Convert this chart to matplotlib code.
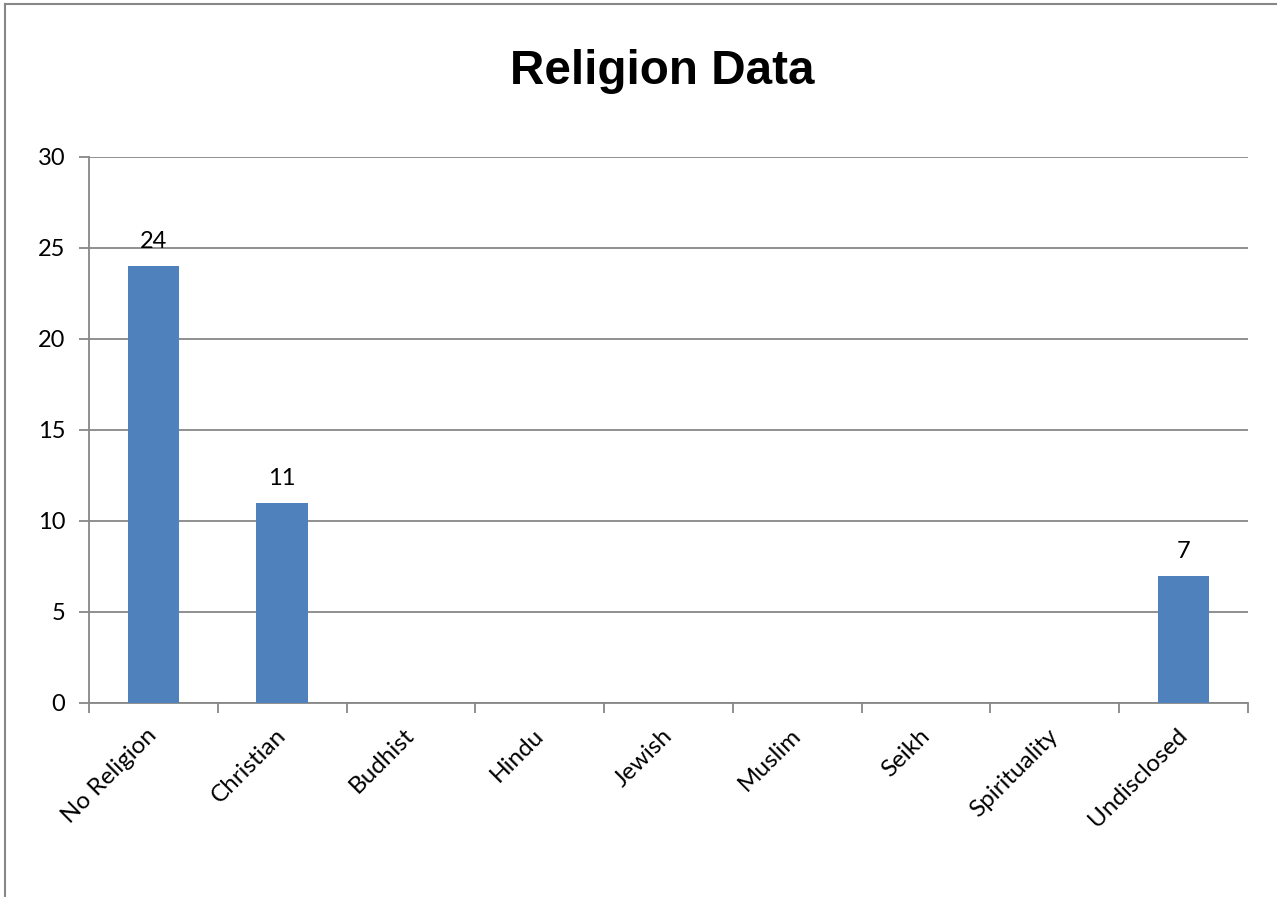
import matplotlib
matplotlib.use("Agg")
import matplotlib.pyplot as plt
from matplotlib.lines import Line2D
from matplotlib.transforms import ScaledTranslation

categories = ["No Religion", "Christian", "Budhist", "Hindu", "Jewish",
              "Muslim", "Seikh", "Spirituality", "Undisclosed"]
counts = [24, 11, 0, 0, 0, 0, 0, 0, 7]
y_ticks = [0, 5, 10, 15, 20, 25, 30]

plt.rcParams["font.family"] = ["Lato", "DejaVu Sans"]
axis_grey = "#878787"
bar_blue = "#4f81bd"

fig = plt.figure(figsize=(12.77, 8.97), dpi=100)
ax = fig.add_axes([0.0697, 0.2163, 0.9076, 0.6087])

x = list(range(len(categories)))
ax.bar(x, counts, width=0.4, color=bar_blue, zorder=3)

for xi, v in zip(x, counts):
    if v > 0:
        ax.annotate(str(v), (xi, v), xytext=(0, 10), textcoords="offset points",
                    ha="center", va="bottom", fontsize=17, color="black")

ax.set_xlim(-0.5, len(categories) - 0.5)
ax.set_ylim(0, 30)
ax.set_yticks(y_ticks)
ax.set_yticklabels([str(t) for t in y_ticks], fontsize=17)
ax.yaxis.grid(True, color=axis_grey, linewidth=1.3, zorder=0)
ax.tick_params(axis="y", length=7, width=1.3, color=axis_grey, pad=10)

# category boundary ticks
ax.set_xticks([i - 0.5 for i in range(len(categories) + 1)])
ax.set_xticklabels([])
ax.tick_params(axis="x", length=7, width=1.3, color=axis_grey, direction="out")

# category labels rotated at category centres
offset = ScaledTranslation(0.2 / 72, -21 / 72, fig.dpi_scale_trans)
for xi, name in zip(x, categories):
    ax.text(xi, 0, name, transform=ax.get_xaxis_transform() + offset,
            rotation=45, rotation_mode="anchor", ha="right", va="center",
            fontsize=17.5)

for side in ["top", "right"]:
    ax.spines[side].set_visible(False)
ax.spines["left"].set_color(axis_grey)
ax.spines["left"].set_linewidth(1.3)
ax.spines["bottom"].set_color(axis_grey)
ax.spines["bottom"].set_linewidth(1.3)

fig.text(0.5185, 0.9205, "Religion Data", ha="center", va="center",
         fontsize=34.3, fontweight="bold", family="Liberation Sans")

# outer chart frame (left and top edges)
fig.add_artist(Line2D([5 / 1277, 5 / 1277], [0, 1 - 4 / 897],
                      transform=fig.transFigure, color=axis_grey, linewidth=1.5))
fig.add_artist(Line2D([5 / 1277, 1], [1 - 4 / 897, 1 - 4 / 897],
                      transform=fig.transFigure, color=axis_grey, linewidth=1.5))

fig.savefig("out.png", dpi=100)
